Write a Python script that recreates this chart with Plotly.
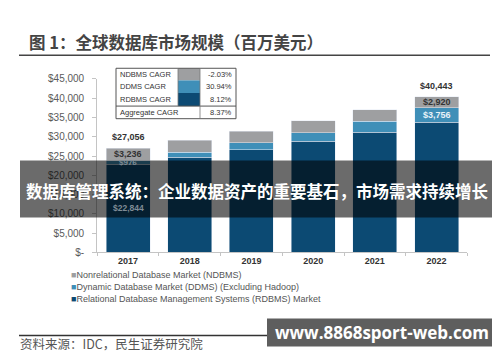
import plotly.graph_objects as go

# ---- data ----
years = ["2017", "2018", "2019", "2020", "2021", "2022"]
rdbms = [22844, 24700, 26700, 28870, 31200, 33767]
ddms = [976, 1280, 1700, 2200, 2870, 3756]
ndbms = [3236, 3170, 3100, 3040, 2980, 2920]
totals = [27056, 29150, 31500, 34110, 37050, 40443]

series_names = [
    "Nonrelational Database Market (NDBMS)",
    "Dynamic Database Market (DDMS) (Excluding Hadoop)",
    "Relational Database Management Systems (RDBMS) Market",
]
cagr_labels = ["NDBMS CAGR", "DDMS CAGR", "RDBMS CAGR", "Aggregate CAGR"]
cagr_values = ["-2.03%", "30.94%", "8.12%", "8.37%"]
y_tickvals = [0, 5000, 10000, 15000, 20000, 25000, 30000, 35000, 40000, 45000]
y_ticktext = ["$-", "$5,000", "$10,000", "$15,000", "$20,000", "$25,000",
              "$30,000", "$35,000", "$40,000", "$45,000"]

title = "图 1：全球数据库市场规模（百万美元）"
banner = "数据库管理系统：企业数据资产的重要基石，市场需求持续增长"
source = "资料来源：IDC，民生证券研究院"
watermark = "www.8868sport-web.com"

C_GRAY = "#9e9fa1"
C_LIGHT = "#3f8fb8"
C_DARK = "#0c4a73"

W, H = 500, 362


def px(x):
    return x / W


def py(y):
    return 1 - y / H


CJK = "Noto Sans CJK SC"
LAT = "Liberation Sans"

fig = go.Figure()
fig.add_bar(x=years, y=rdbms, marker_color=C_DARK, name=series_names[2], showlegend=False)
fig.add_bar(x=years, y=ddms, marker_color=C_LIGHT, name=series_names[1], showlegend=False)
fig.add_bar(x=years, y=ndbms, marker_color=C_GRAY, name=series_names[0], showlegend=False)

fig.update_layout(
    width=W, height=H,
    barmode="stack", bargap=0.287,
    margin=dict(l=0, r=0, t=0, b=0),
    paper_bgcolor="white", plot_bgcolor="white",
    font=dict(family=LAT, color="#444"),
    xaxis=dict(domain=[px(89.2), px(459.4)], type="category",
               categoryorder="array", categoryarray=years,
               range=[-0.5, len(years) - 0.5], autorange=False,
               showline=True, linecolor="#c4c4c4", linewidth=1,
               ticks="outside", tickson="boundaries", ticklen=3, tickcolor="#c4c4c4",
               tickfont=dict(size=9, color="#333", weight="bold"),
               showgrid=False, zeroline=False),
    yaxis=dict(domain=[py(247), py(68)], range=[0, 45000], autorange=False,
               tickvals=y_tickvals, ticktext=y_ticktext,
               showline=True, linecolor="#c4c4c4", linewidth=1,
               ticks="outside", ticklen=4, tickcolor="#c4c4c4",
               ticklabelstandoff=6,
               tickfont=dict(size=10, color="#5a5a5a"),
               showgrid=False, zeroline=False),
)

ann = []
shapes = []

# --- bar value labels (2017 and 2022) ---
for i in (0, 5):
    r, d, n, t = rdbms[i], ddms[i], ndbms[i], totals[i]
    ann.append(dict(x=i, y=t, yshift=11, text="<b>$%s</b>" % format(t, ","),
                    showarrow=False, font=dict(size=9, color="#333")))
    ann.append(dict(x=i, y=r + d + n / 2, text="<b>$%s</b>" % format(n, ","),
                    showarrow=False, font=dict(size=9, color="#333")))
    if i == 0:
        ann.append(dict(x=i, y=r + d / 2, text="<b>$%s</b>" % format(d, ","),
                        showarrow=False, font=dict(size=8, color="#7f8c96")))
        ann.append(dict(x=i, y=r / 2, text="<b>$%s</b>" % format(r, ","),
                        showarrow=False, font=dict(size=8.5, color="#7f8c96")))
    else:
        ann.append(dict(x=i, y=r + d / 2, text="<b>$%s</b>" % format(d, ","),
                        showarrow=False, font=dict(size=9, color="#e8f2f8")))

# --- CAGR table ---
tx0, tx1, ty0, ty1 = 108, 228, 57, 109
col1, col2 = 170, 192
rows = [57, 69.5, 82.5, 96, 109]
swatches = [C_GRAY, C_LIGHT, C_DARK]
for k in range(3):
    shapes.append(dict(type="rect", xref="paper", yref="paper",
                       x0=px(col1), x1=px(col2), y0=py(rows[k + 1]), y1=py(rows[k]),
                       fillcolor=swatches[k], line=dict(width=0)))
shapes.append(dict(type="rect", xref="paper", yref="paper",
                   x0=px(tx0), x1=px(tx1), y0=py(ty1), y1=py(ty0),
                   line=dict(color="#555", width=1)))
shapes.append(dict(type="line", xref="paper", yref="paper",
                   x0=px(tx0), x1=px(tx1), y0=py(rows[3]), y1=py(rows[3]),
                   line=dict(color="#555", width=1)))
shapes.append(dict(type="line", xref="paper", yref="paper",
                   x0=px(col1), x1=px(col1), y0=py(rows[3]), y1=py(ty0),
                   line=dict(color="#777", width=0.8)))
shapes.append(dict(type="line", xref="paper", yref="paper",
                   x0=px(col2), x1=px(col2), y0=py(ty1), y1=py(ty0),
                   line=dict(color="#777", width=0.8)))
for k in range(4):
    yc = (rows[k] + rows[k + 1]) / 2
    ann.append(dict(xref="paper", yref="paper", x=px(tx0 + 2), y=py(yc),
                    xanchor="left", yanchor="middle", text=cagr_labels[k],
                    showarrow=False, font=dict(size=7.5, color="#333")))
    ann.append(dict(xref="paper", yref="paper", x=px(tx1 - 2), y=py(yc),
                    xanchor="right", yanchor="middle", text=cagr_values[k],
                    showarrow=False, font=dict(size=7.5, color="#333")))

# --- legend (custom) ---
leg_colors = [C_GRAY, C_LIGHT, C_DARK]
for k, name in enumerate(series_names):
    ann.append(dict(xref="paper", yref="paper", x=px(61), y=py(270 + 12.5 * k),
                    xanchor="left", yanchor="middle",
                    text='<span style="color:%s">■</span>%s' % (leg_colors[k], name),
                    showarrow=False, font=dict(size=9, color="#555")))

# --- title and rules ---
ann.append(dict(xref="paper", yref="paper", x=px(19), y=py(30), xanchor="left",
                yanchor="middle", text="<b>%s</b>" % title, showarrow=False,
                font=dict(size=16.5, color="#444", family=CJK)))
shapes.append(dict(type="line", xref="paper", yref="paper", x0=px(11), x1=px(482),
                   y0=py(43.5), y1=py(43.5), line=dict(color="#444", width=1.5)))
shapes.append(dict(type="line", xref="paper", yref="paper", x0=px(11), x1=px(482),
                   y0=py(332.5), y1=py(332.5), line=dict(color="#333", width=1.5)))
ann.append(dict(xref="paper", yref="paper", x=px(10), y=py(341), xanchor="left",
                yanchor="middle", text=source, showarrow=False,
                font=dict(size=12.5, color="#555", family=CJK)))

# --- banner overlay ---
shapes.append(dict(type="rect", xref="paper", yref="paper", layer="above",
                   x0=px(12), x1=px(489), y0=py(211), y1=py(152),
                   fillcolor="rgba(0,0,0,0.58)", line=dict(width=0)))
ann.append(dict(xref="paper", yref="paper", x=px(249), y=py(184), xanchor="center",
                yanchor="middle", text="<b>%s</b>" % banner, showarrow=False,
                font=dict(size=16.5, color="white", family=CJK)))

# --- watermark ---
shapes.append(dict(type="rect", xref="paper", yref="paper", layer="above",
                   x0=px(259), x1=px(491), y0=py(344), y1=py(315),
                   fillcolor="#5e5e5e", line=dict(width=0)))
ann.append(dict(xref="paper", yref="paper", x=px(374), y=py(329.5), xanchor="center",
                yanchor="middle", text="<b>%s</b>" % watermark, showarrow=False,
                font=dict(size=17, color="white", family="Open Sans")))

fig.update_layout(annotations=ann, shapes=shapes)
fig.write_html("out.html")
